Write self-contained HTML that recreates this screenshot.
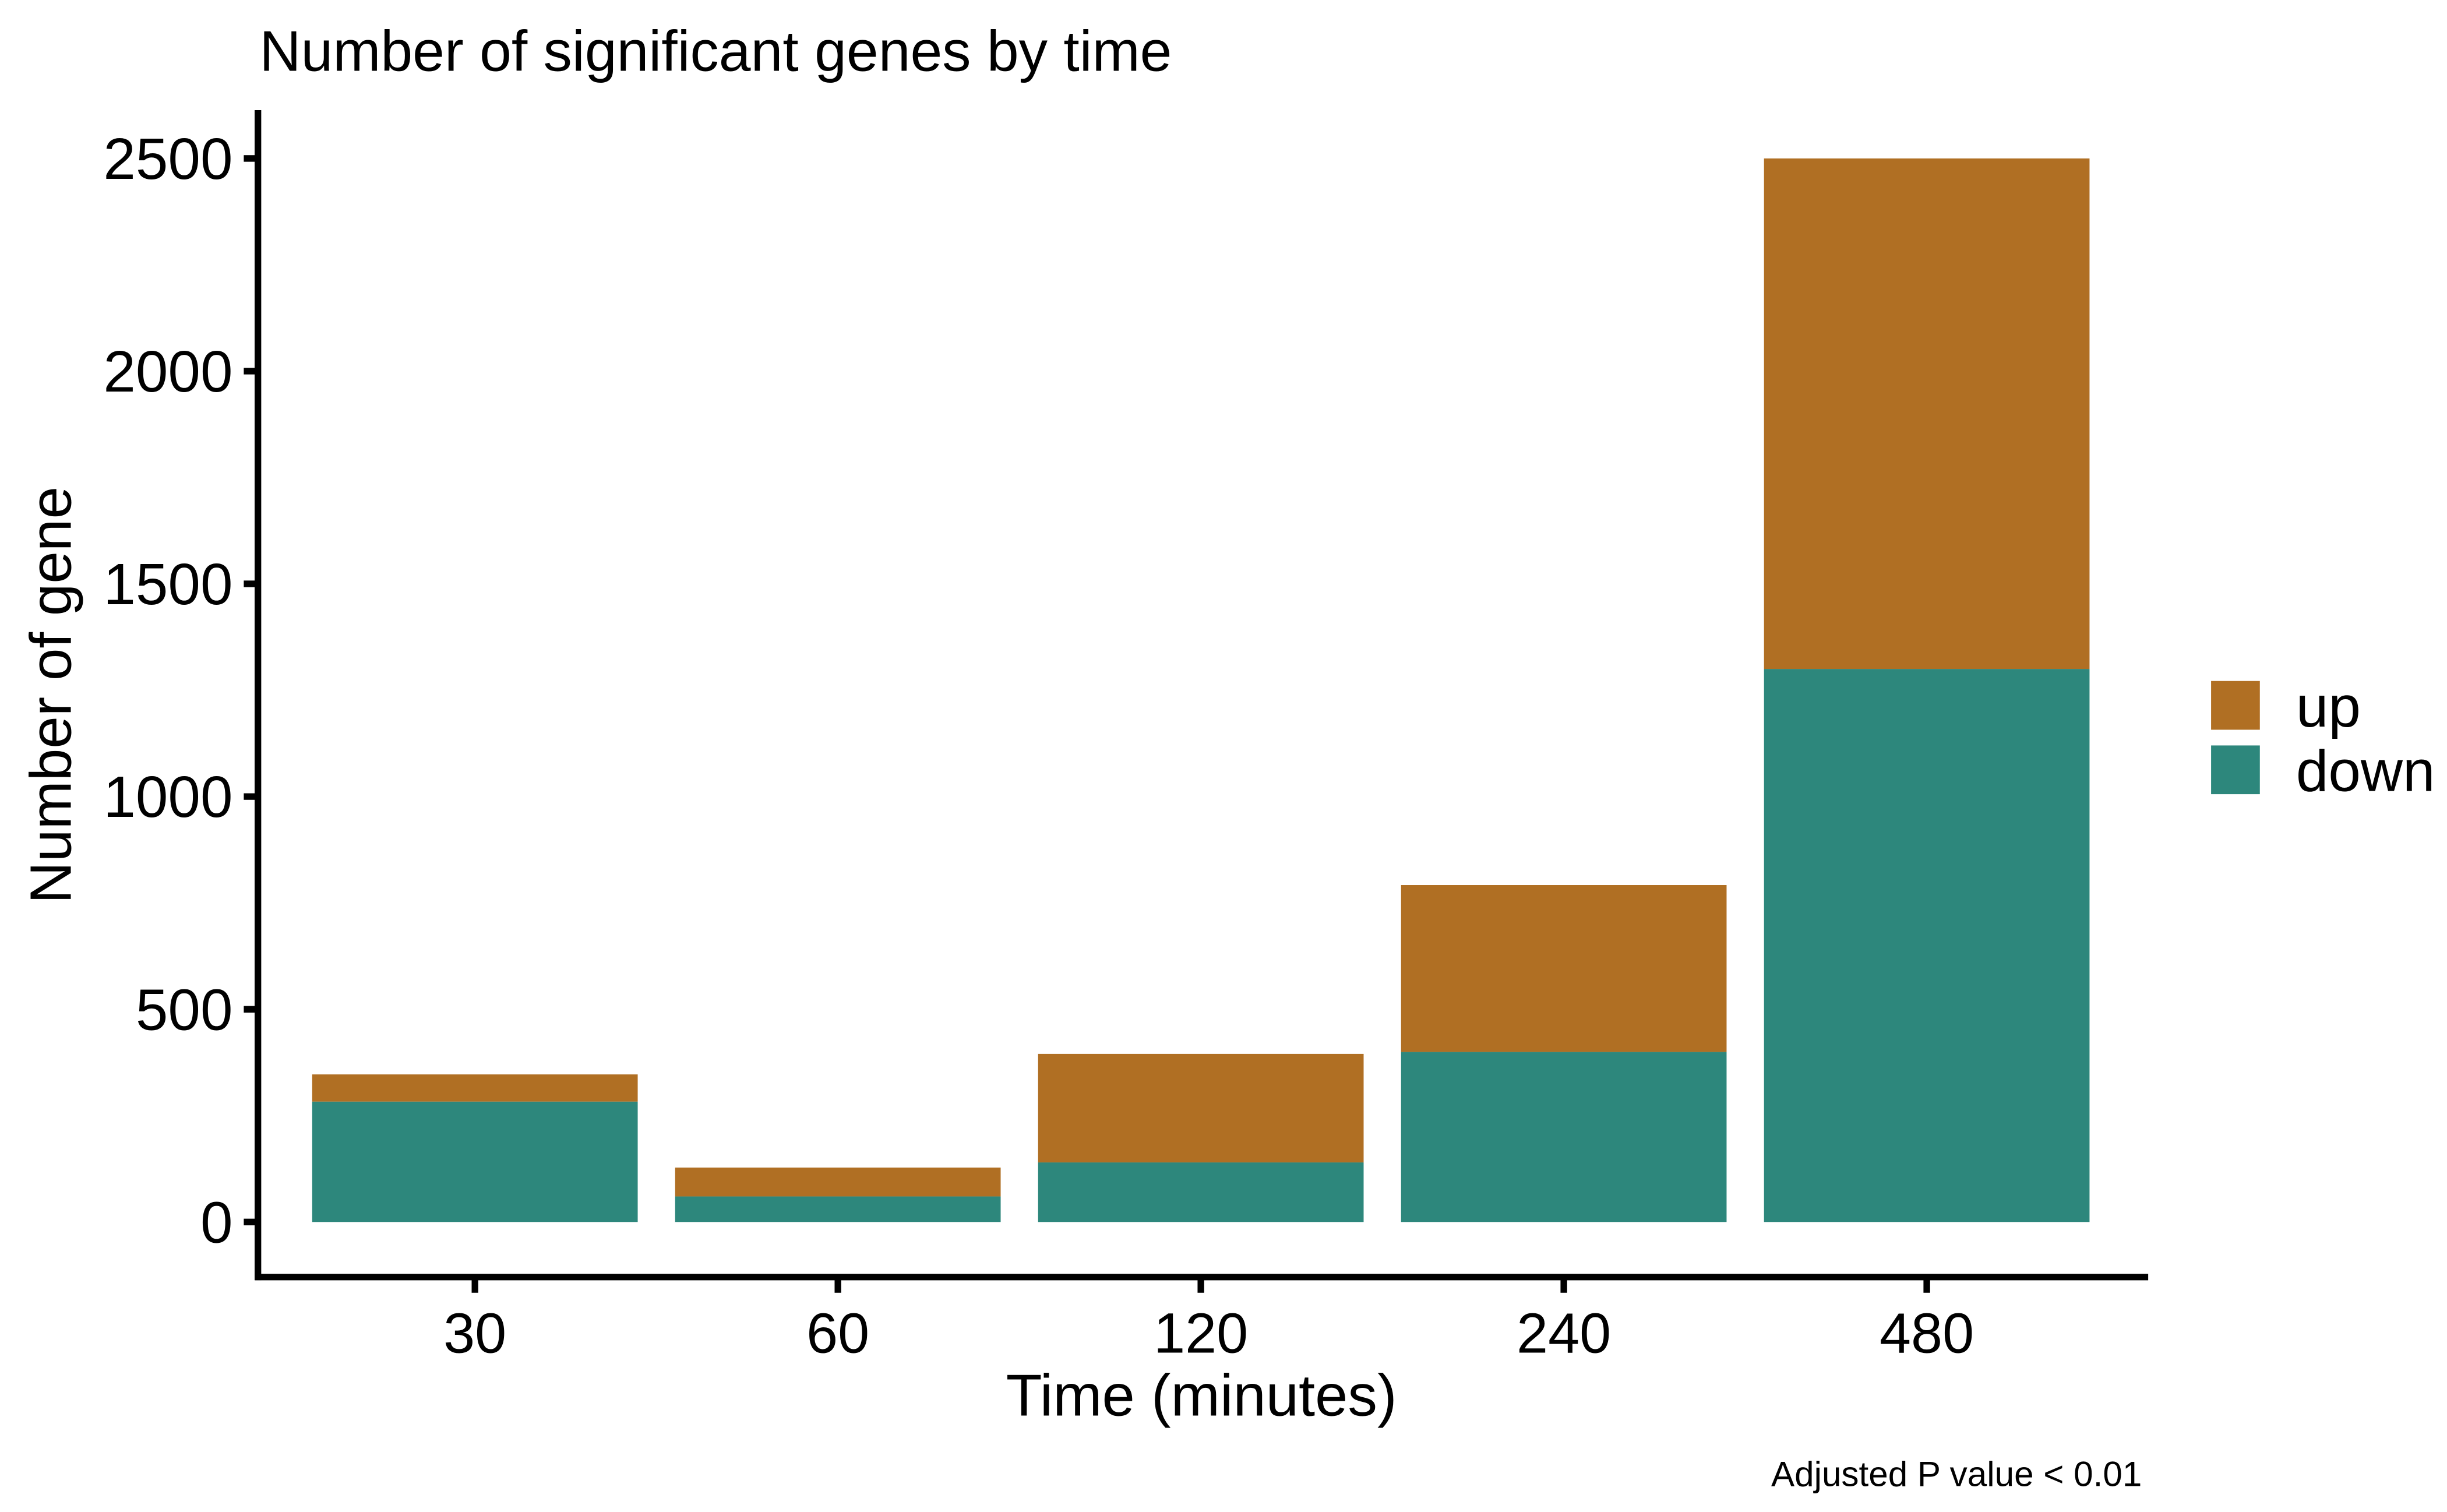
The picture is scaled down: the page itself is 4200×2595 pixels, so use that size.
<!DOCTYPE html>
<html><head><meta charset="utf-8"><style>
html,body{margin:0;padding:0;background:#fff;}
svg{display:block;font-family:"Liberation Sans",Arial,sans-serif;}
</style></head><body>
<svg id="chart" width="4200" height="2595" viewBox="0 0 1556 961.4" xmlns="http://www.w3.org/2000/svg">
<rect width="1556" height="961.4" fill="#fff"/>
<text x="165" y="45" font-size="36.5">Number of significant genes by time</text>
<g id="bars"></g>
<g id="axes"></g>
<text x="764" y="900" font-size="37.5" text-anchor="middle">Time (minutes)</text>
<text transform="translate(45,442) rotate(-90)" font-size="37" text-anchor="middle">Number of gene</text>
<g>
<rect x="1406" y="433" width="31" height="31" fill="#B06F23"/>
<text x="1460" y="462" font-size="37">up</text>
<rect x="1406" y="474" width="31" height="31" fill="#2D877C"/>
<text x="1460" y="503" font-size="37">down</text>
</g>
<text x="1362" y="945" font-size="22.3" text-anchor="end">Adjusted P value &lt; 0.01</text>
</svg>
<script>
const categories = ["30","60","120","240","480"];
const downValues = [283, 60, 140, 400, 1300];
const upValues = [64, 68, 255, 392, 1200];
const yTicks = [0, 500, 1000, 1500, 2000, 2500];

const NS = "http://www.w3.org/2000/svg";
const y0 = 777, perUnit = 0.2705;
function yScale(v){ return y0 - v*perUnit; }
const xStart = 302, step = 230.8, barW = 207;
function xScale(i){ return xStart + i*step; }

const bars = document.getElementById('bars');
categories.forEach((c,i)=>{
  const x = xScale(i) - barW/2;
  const d = document.createElementNS(NS,'rect');
  d.setAttribute('x',x); d.setAttribute('width',barW);
  d.setAttribute('y',yScale(downValues[i])); d.setAttribute('height',yScale(0)-yScale(downValues[i]));
  d.setAttribute('fill','#2D877C');
  
  
  bars.appendChild(d);
  const u = document.createElementNS(NS,'rect');
  const top = downValues[i]+upValues[i];
  u.setAttribute('x',x); u.setAttribute('width',barW);
  u.setAttribute('y',yScale(top)); u.setAttribute('height',yScale(downValues[i])-yScale(top));
  u.setAttribute('fill','#B06F23');
  
  
  bars.appendChild(u);
});

const axes = document.getElementById('axes');
function line(x1,y1,x2,y2,name){
  const l = document.createElementNS(NS,'line');
  l.setAttribute('x1',x1);l.setAttribute('y1',y1);l.setAttribute('x2',x2);l.setAttribute('y2',y2);
  l.setAttribute('stroke','#000');l.setAttribute('stroke-width','4.2');
  
  
  axes.appendChild(l);
}
line(164,70,164,814,'y-axis-line');
line(162,812,1366,812,'x-axis-line');
yTicks.forEach(t=>{
  const y = yScale(t);
  line(155,y,164,y,'y-tick');
  const tx = document.createElementNS(NS,'text');
  tx.setAttribute('x',148); tx.setAttribute('y',y+13);
  tx.setAttribute('font-size','37'); tx.setAttribute('text-anchor','end');
  tx.textContent = t;
  
  
  axes.appendChild(tx);
});
categories.forEach((c,i)=>{
  const x = xScale(i);
  line(x,812,x,822,'x-tick');
  const tx = document.createElementNS(NS,'text');
  tx.setAttribute('x',x); tx.setAttribute('y',860);
  tx.setAttribute('font-size','36'); tx.setAttribute('text-anchor','middle');
  tx.textContent = c;
  
  
  axes.appendChild(tx);
});
</script>
</body></html>
